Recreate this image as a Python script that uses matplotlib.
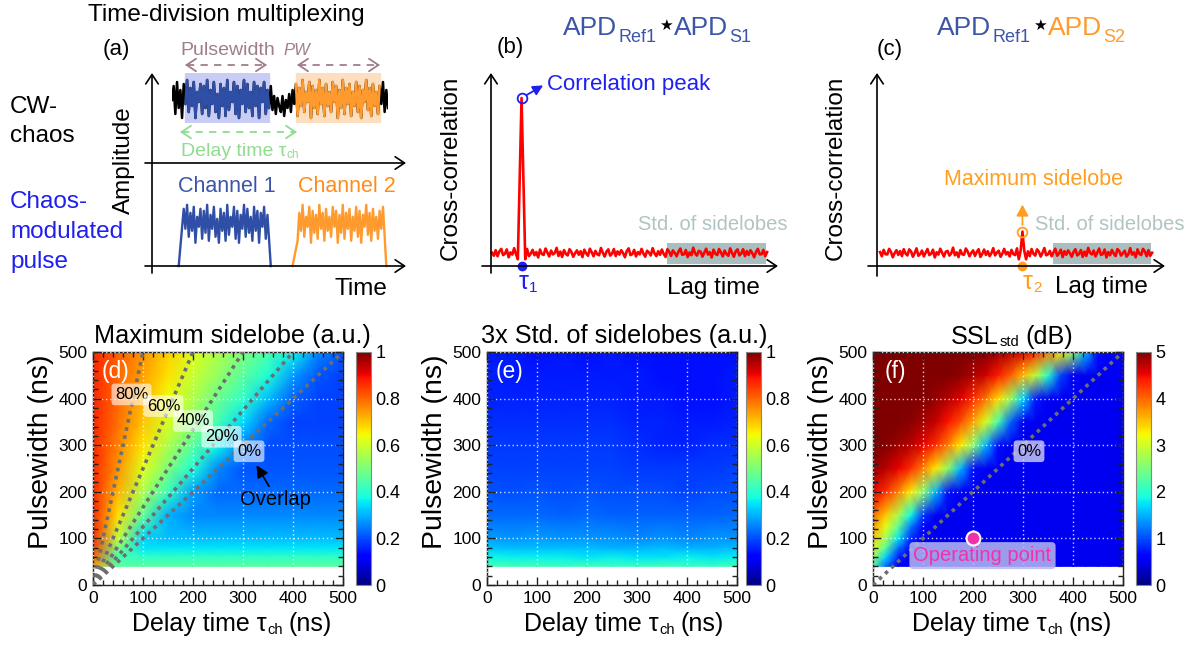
import numpy as np
import matplotlib
matplotlib.use("Agg")
import matplotlib.pyplot as plt
from matplotlib.patches import Rectangle
from matplotlib.ticker import MultipleLocator

plt.rcParams['font.family'] = ['Liberation Sans', 'DejaVu Sans']

# ---------------------------------------------------------------- data
# CW chaos waveform (normalised amplitude, one value per sample)
cw_chaos = [
    0.50, 0.85, 0.15, 0.95, 0.30, 0.75, 0.05, 0.90, 0.40, 1.00,
    0.20, 0.80, 0.35, 0.95, 0.05, 0.70, 0.45, 0.90, 0.15, 0.85,
    0.30, 1.00, 0.10, 0.75, 0.40, 0.95, 0.20, 0.65, 0.05, 0.90,
    0.35, 0.80, 0.10, 1.00, 0.25, 0.70, 0.45, 0.95, 0.15, 0.85,
    0.05, 0.75, 0.40, 1.00, 0.20, 0.90, 0.30, 0.70, 0.10, 0.95,
    0.35, 0.85, 0.05, 0.80, 0.45, 0.95, 0.15, 0.75, 0.30, 0.85,
    0.25, 0.60, 0.15, 0.55, 0.35, 0.20, 0.60, 0.10, 0.50, 0.30,
    0.65, 0.20, 0.75, 0.40, 0.90, 0.10, 0.80, 0.35, 1.00, 0.20,
    0.70, 0.45, 0.95, 0.05, 0.85, 0.30, 0.75, 0.15, 1.00, 0.40,
    0.80, 0.10, 0.90, 0.35, 0.70, 0.20, 0.95, 0.45, 0.85, 0.05,
    0.75, 0.30, 1.00, 0.15, 0.80, 0.40, 0.90, 0.10, 0.70, 0.35,
    0.95, 0.20, 0.85, 0.05, 0.75, 0.45, 1.00, 0.25, 0.80, 0.10,
    0.90, 0.35, 0.70, 0.15, 0.85, 0.40, 0.95, 0.20, 0.75, 0.30,
]
ch1_window = (8, 58)      # sample range of channel 1
ch2_window = (74, 124)    # sample range of channel 2
ch1_edges = (4, 7, 57, 59)     # pulse start, top start, top end, pulse end
ch2_edges = (72, 75, 126, 128)
pulse_offset = 0.53

# cross-correlation sidelobe floor (% of peak)
sidelobe_noise = [
    7.9, 6.1, 9.4, 5.8, 8.7, 10.2, 6.5, 7.3, 9.9, 5.2,
    8.1, 6.8, 10.6, 7.0, 5.6, 9.1, 7.7, 6.2, 8.9, 10.1,
    5.9, 7.4, 9.6, 6.4, 8.3, 5.1, 9.8, 7.1, 6.6, 10.4,
    8.0, 5.7, 9.2, 6.9, 7.8, 10.8, 6.0, 8.6, 5.4, 9.5,
    7.2, 6.3, 10.0, 8.4, 5.5, 7.6, 9.3, 6.7, 8.8, 5.3,
    9.7, 7.5, 6.1, 10.3, 8.2, 5.8, 9.0, 7.0, 6.4, 10.7,
    7.9, 5.6, 8.5, 9.9, 6.2, 7.3, 10.1, 5.9, 8.7, 6.8,
    9.4, 7.7, 5.2, 8.9, 10.5, 6.5, 7.1, 9.6, 5.7, 8.3,
    6.9, 10.2, 7.4, 5.5, 9.1, 8.0, 6.3, 10.6, 7.6, 5.9,
    8.8, 6.6, 9.8, 7.2, 5.4, 10.0, 8.4, 6.0, 9.3, 7.8,
    5.8, 8.6, 10.4, 6.7, 7.0, 9.5, 5.3, 8.1, 6.4, 10.9,
    7.5, 6.2, 9.0, 8.5, 5.6, 7.9, 10.3, 6.8, 8.2, 5.1,
    9.7, 7.3, 6.5, 10.1, 8.0, 5.7, 9.2, 7.1, 6.1, 10.5,
    7.8, 5.5, 8.7, 9.9, 6.3, 7.4, 10.0, 5.9, 8.9, 6.6,
    9.4, 7.6, 5.2, 8.4, 10.2, 6.9, 7.0, 9.6, 5.8, 8.3,
]
peak_b_index, peak_b_shape = 14, [4.0, 52.0, 100.0, 52.0, 4.0]
peak_c_index, peak_c_shape = 76, [4.0, 9.0, 20.5, 9.0, 4.0]
tau1_lag = 16
tau2_lag = 78
std_window = (95, 148.5)

# maps: delay time (ns) x pulsewidth (ns)
tau_d = [0, 50, 100, 150, 200, 250, 300, 350, 400, 450, 500]
pw_d = [40, 60, 80, 100, 150, 200, 250, 300, 350, 400, 450, 500]
max_sidelobe = [
    [.74, .46, .46, .46, .46, .46, .46, .46, .46, .46, .46],
    [.80, .43, .41, .41, .41, .41, .41, .41, .41, .41, .41],
    [.84, .50, .35, .35, .35, .35, .35, .35, .35, .35, .35],
    [.86, .58, .33, .31, .31, .31, .31, .31, .31, .31, .31],
    [.87, .67, .47, .30, .26, .26, .26, .26, .26, .26, .26],
    [.87, .72, .56, .42, .28, .23, .23, .23, .23, .23, .23],
    [.87, .75, .62, .50, .39, .26, .21, .21, .21, .21, .21],
    [.87, .77, .67, .56, .46, .37, .25, .20, .20, .20, .20],
    [.87, .79, .70, .61, .52, .43, .34, .23, .19, .19, .19],
    [.87, .80, .72, .64, .56, .48, .41, .31, .22, .19, .19],
    [.87, .80, .74, .67, .59, .53, .46, .39, .28, .21, .19],
    [.87, .81, .75, .69, .62, .56, .50, .44, .37, .26, .21],
]
std3_sidelobe = [
    [.44, .43, .43, .42, .43, .42, .42, .43, .42, .42, .43],
    [.37, .36, .36, .36, .35, .36, .35, .35, .36, .35, .36],
    [.32, .31, .31, .31, .31, .30, .30, .31, .30, .30, .31],
    [.28, .27, .28, .27, .27, .27, .26, .27, .26, .27, .27],
    [.23, .23, .23, .22, .23, .22, .22, .22, .22, .22, .23],
    [.21, .20, .21, .20, .21, .20, .20, .20, .19, .20, .20],
    [.19, .19, .19, .19, .19, .19, .18, .18, .18, .18, .19],
    [.18, .18, .18, .18, .18, .18, .17, .16, .16, .17, .17],
    [.17, .17, .17, .17, .17, .17, .16, .16, .15, .15, .16],
    [.16, .16, .16, .16, .16, .16, .15, .15, .14, .14, .15],
    [.16, .15, .15, .15, .15, .15, .15, .14, .14, .14, .15],
    [.15, .15, .14, .15, .14, .15, .14, .14, .14, .14, .14],
]
tau_f = [0, 25, 50, 75, 100, 125, 150, 175, 200, 225, 250,
         275, 300, 325, 350, 375, 400, 425, 450, 475, 500]
pw_f = [40, 60, 80, 100, 125, 150, 200, 250, 300, 350, 400, 450, 500]
ssl_std_db = [
    [2.20, 1.15, .50, .50, .50, .50, .50, .50, .50, .50, .50, .50, .50, .50, .50, .50, .50, .50, .50, .50, .50],
    [2.69, 1.67, .80, .50, .50, .50, .50, .50, .50, .50, .50, .50, .50, .50, .50, .50, .50, .50, .50, .50, .50],
    [3.11, 2.28, 1.20, .55, .50, .50, .50, .50, .50, .50, .50, .50, .50, .50, .50, .50, .50, .50, .50, .50, .50],
    [3.44, 2.75, 1.77, .85, .50, .50, .50, .50, .50, .50, .50, .50, .50, .50, .50, .50, .50, .50, .50, .50, .50],
    [3.75, 3.14, 2.32, 1.23, .56, .50, .50, .50, .50, .50, .50, .50, .50, .50, .50, .50, .50, .50, .50, .50, .50],
    [4.00, 3.49, 2.81, 1.86, .90, .50, .50, .50, .50, .50, .50, .50, .50, .50, .50, .50, .50, .50, .50, .50, .50],
    [4.55, 4.30, 3.88, 3.32, 2.60, 1.53, .70, .50, .50, .50, .50, .50, .50, .50, .50, .50, .50, .50, .50, .50, .50],
    [4.88, 4.75, 4.55, 4.30, 3.88, 3.32, 2.60, 1.53, .70, .50, .50, .50, .50, .50, .50, .50, .50, .50, .50, .50, .50],
    [5.00, 5.00, 4.88, 4.75, 4.55, 4.30, 3.88, 3.32, 2.60, 1.53, .70, .50, .50, .50, .50, .50, .50, .50, .50, .50, .50],
    [5.00, 5.00, 5.00, 4.95, 4.83, 4.70, 4.45, 4.13, 3.68, 3.05, 2.20, 1.13, .50, .50, .50, .50, .50, .50, .50, .50, .50],
    [5.00, 5.00, 5.00, 5.00, 5.00, 4.89, 4.77, 4.58, 4.33, 3.93, 3.39, 2.69, 1.67, .75, .50, .50, .50, .50, .50, .50, .50],
    [5.00, 5.00, 5.00, 5.00, 5.00, 5.00, 5.00, 4.93, 4.80, 4.65, 4.40, 4.05, 3.56, 2.90, 2.00, .97, .50, .50, .50, .50, .60],
    [5.00, 5.00, 5.00, 5.00, 5.00, 5.00, 5.00, 5.00, 5.00, 5.00, 4.88, 4.75, 4.55, 4.30, 3.88, 3.32, 2.60, 1.53, .70, .60, .60],
]
overlap_ratios = [0.8, 0.6, 0.4, 0.2, 0.0]
overlap_text = ['80%', '60%', '40%', '20%', '0%']
overlap_label_pos = [(77, 409), (141, 384), (200, 352), (257, 318), (312, 287)]
operating_point = (200, 100)

# ---------------------------------------------------------------- figure
W, H = 1202, 645
fig = plt.figure(figsize=(W / 100, H / 100), dpi=100)
renderer = fig.canvas.get_renderer()

BLUE_SIG = '#2f4fa6'
ORANGE_SIG = '#ff9a2e'
TITLE_BLUE = '#3c55a8'
PURE_BLUE = '#1f1fee'
ORANGE_TXT = '#ff9e1f'
MAUVE = '#a07d8c'
GREEN = '#8fdc8f'
GREY_TXT = '#b0c4c4'
GREY_BOX = '#a9bfbf'


def px_axes(x0, y0, x1, y1):
    return fig.add_axes([x0 / W, 1 - y1 / H, (x1 - x0) / W, (y1 - y0) / H])


def ftext(x, y, s, **kw):
    return fig.text(x / W, 1 - y / H, s, **kw)


def chain_text(x, pieces, ha='left'):
    """Pieces of text set one after another: (string, size, baseline_px, colour, gap_px, extra)."""
    arts, widths = [], []
    for s, fs, base, col, gap, extra in pieces:
        t = fig.text(0, 0, s, fontsize=fs, color=col, ha='left', va='baseline', **extra)
        arts.append((t, base, gap))
        widths.append(t.get_window_extent(renderer).width)
    total = sum(widths) + sum(g for _, _, g in arts)
    xs = x - total / 2 if ha == 'center' else x
    for (t, base, gap), w in zip(arts, widths):
        xs += gap
        t.set_position((xs / W, 1 - base / H))
        xs += w


# ---------------------------------------------------------------- (a)
ax_cw = px_axes(172, 73, 388, 123)
ax_cw.set_xlim(0, len(cw_chaos) - 1)
ax_cw.set_ylim(-0.075, 1.175)
ax_cw.axis('off')
ax_cw.axvspan(*ch1_window, color='#c9cdf6', zorder=0)
ax_cw.axvspan(*ch2_window, color='#fddfc0', zorder=0)
samples = np.arange(len(cw_chaos))
ax_cw.plot(samples, cw_chaos, color='black', lw=1.8, zorder=1)
s1 = slice(ch1_window[0], ch1_window[1] + 1)
s2 = slice(ch2_window[0], ch2_window[1] + 1)
ax_cw.plot(samples[s1], cw_chaos[s1], color=BLUE_SIG, lw=1.8, zorder=2)
ax_cw.plot(samples[s2], cw_chaos[s2], color=ORANGE_SIG, lw=1.8, zorder=2)

ax_p = px_axes(172, 196, 388, 266)
ax_p.set_xlim(0, len(cw_chaos) - 1)
ax_p.set_ylim(0, 1.75)
ax_p.axis('off')
for edges, col in ((ch1_edges, BLUE_SIG), (ch2_edges, ORANGE_SIG)):
    t0, ta, tb, t1 = edges
    xs = [t0] + list(range(ta, tb + 1)) + [t1]
    ys = [0] + [cw_chaos[i] + pulse_offset for i in range(ta, tb + 1)] + [0]
    ax_p.plot(xs, ys, color=col, lw=1.7, clip_on=False)

ftext(226, 15, 'Time-division multiplexing', fontsize=17.5, ha='center', va='center')
ftext(116, 49, '(a)', fontsize=16, ha='center', va='center')
ftext(10, 113, 'CW-', fontsize=17.5, ha='left', va='baseline')
ftext(10, 142, 'chaos', fontsize=17.5, ha='left', va='baseline')
ftext(10, 208, 'Chaos-', fontsize=17.5, ha='left', va='baseline', color=PURE_BLUE)
ftext(10, 238, 'modulated', fontsize=17.5, ha='left', va='baseline', color=PURE_BLUE)
ftext(10, 268, 'pulse', fontsize=17.5, ha='left', va='baseline', color=PURE_BLUE)
ftext(124, 160, 'Amplitude', fontsize=17.5, rotation=90, ha='center', va='center')
ftext(335, 295, 'Time', fontsize=17.5, ha='left', va='baseline')
ftext(180, 55, 'Pulsewidth', fontsize=14, color=MAUVE, ha='left', va='baseline')
ftext(283, 55, 'PW', fontsize=12, color=MAUVE, style='italic', ha='left', va='baseline')
chain_text(181, [('Delay time τ', 14, 156, GREEN, 0, {}),
                 ('ch', 8.5, 158, GREEN, 0.5, {})])
ftext(178, 192, 'Channel 1', fontsize=15.5, color='#3a55a8', ha='left', va='baseline')
ftext(298, 192, 'Channel 2', fontsize=15.5, color='#ff8c1a', ha='left', va='baseline')

# ---------------------------------------------------------------- (b) and (c)
corr_b = list(sidelobe_noise)
corr_b[peak_b_index:peak_b_index + len(peak_b_shape)] = peak_b_shape
corr_c = list(sidelobe_noise[::-1])
corr_c[peak_c_index:peak_c_index + len(peak_c_shape)] = peak_c_shape
lags = np.arange(len(sidelobe_noise))


def corr_panel(box, xlim, corr):
    ax = px_axes(*box)
    ax.set_xlim(*xlim)
    ax.set_ylim(-7.14, 116.67)
    ax.axis('off')
    ax.add_patch(Rectangle((std_window[0], 1.2), std_window[1] - std_window[0], 12.5,
                           facecolor=GREY_BOX, edgecolor='none', zorder=1))
    ax.plot(lags, corr, color='#ff0000', lw=1.9, zorder=2)
    return ax


ax_b = corr_panel((480, 70, 785, 278), (-6.5, 158.7), corr_b)
ax_b.plot([tau1_lag], [corr_b[tau1_lag]], 'o', ms=7, mfc='none', mec=PURE_BLUE, mew=1.3, zorder=3)
ax_b.annotate('', xy=(27.7, 107.5), xytext=(18.8, 101.8),
              arrowprops=dict(arrowstyle='-|>,head_length=0.5,head_width=0.25', color=PURE_BLUE,
                              lw=1.3, shrinkA=0, shrinkB=0, mutation_scale=12))
ax_b.plot([tau1_lag], [0], 'o', ms=6, color=PURE_BLUE, clip_on=False, zorder=4)

ax_c = corr_panel((866, 70, 1170, 278), (-7.67, 158.8), corr_c)
ax_c.plot([tau2_lag], [corr_c[tau2_lag]], 'o', ms=7, mfc='none', mec=ORANGE_TXT, mew=1.3, zorder=3)
ax_c.annotate('', xy=(tau2_lag, 36.5), xytext=(tau2_lag, 24.5),
              arrowprops=dict(arrowstyle='-|>,head_length=0.55,head_width=0.3', color=ORANGE_TXT,
                              lw=1.3, shrinkA=0, shrinkB=0, mutation_scale=12))
ax_c.plot([tau2_lag], [0], 'o', ms=6, color=ORANGE_TXT, clip_on=False, zorder=4)

# panel titles  APD_Ref1 * APD_S
star_font = {'family': ['DejaVu Sans']}
for x0, col2, sub2 in ((563, TITLE_BLUE, 'S1'), (937, ORANGE_SIG, 'S2')):
    chain_text(x0, [('APD', 19, 35, TITLE_BLUE, 0, {}),
                    ('Ref1', 13, 42.5, TITLE_BLUE, 1.5, {}),
                    ('★', 11, 29.5, 'black', 2, star_font),
                    ('APD', 19, 35, col2, 2, {}),
                    (sub2, 13, 42.5, col2, 0.5, {})])

ftext(510, 48, '(b)', fontsize=16, ha='center', va='center')
ftext(890, 50, '(c)', fontsize=16, ha='center', va='center')
for xc in (451, 836):
    ftext(xc, 168, 'Cross-correlation', fontsize=17.5, rotation=90, ha='center', va='center')
ftext(547, 90, 'Correlation peak', fontsize=16, color=PURE_BLUE, va='baseline')
ftext(638, 230, 'Std. of sidelobes', fontsize=14.5, color=GREY_TXT, va='baseline')
ftext(1035, 230, 'Std. of sidelobes', fontsize=14.5, color=GREY_TXT, va='baseline')
ftext(1034, 185, 'Maximum sidelobe', fontsize=15.5, color=ORANGE_TXT, ha='center', va='baseline')
chain_text(528, [('τ', 18, 289, PURE_BLUE, 0, {}), ('1', 11, 292, PURE_BLUE, 0.5, {})], ha='center')
chain_text(1032, [('τ', 18, 289, ORANGE_TXT, 0, {}), ('2', 11, 292, ORANGE_TXT, 0.5, {})], ha='center')
ftext(667, 294, 'Lag time', fontsize=17.5, va='baseline')
ftext(1055, 293, 'Lag time', fontsize=17.5, va='baseline')

# ---------------------------------------------------------------- maps


def style_map(ax):
    ax.set_xlim(0, 500)
    ax.set_ylim(0, 500)
    ax.set_xticks(range(0, 501, 100))
    ax.set_yticks(range(0, 501, 100))
    ax.xaxis.set_minor_locator(MultipleLocator(20))
    ax.yaxis.set_minor_locator(MultipleLocator(20))
    ax.tick_params(which='both', direction='in', top=True, right=True, color='#222222', width=1)
    ax.tick_params(which='major', length=6, labelsize=12.5, pad=4)
    ax.tick_params(which='minor', length=3.5)
    ax.grid(which='major', color='white', ls=(0, (1, 2)), lw=1, alpha=0.8)
    ax.set_axisbelow(False)
    for sp in ax.spines.values():
        sp.set_color('#222222')
        sp.set_linewidth(1)


def map_panel(x0, cx0, tau, pw, values, vmax, cticks, clabels, title, tag):
    ax = px_axes(x0, 352, x0 + 250, 585)
    T, P = np.meshgrid(tau, pw)
    mesh = ax.pcolormesh(T, P, np.array(values), cmap='jet', vmin=0, vmax=vmax,
                         shading='gouraud', zorder=0)
    style_map(ax)
    cax = px_axes(cx0, 352, cx0 + 15, 585)
    cb = fig.colorbar(mesh, cax=cax, ticks=cticks)
    cb.set_ticklabels(clabels)
    cb.ax.tick_params(length=0, labelsize=13, pad=3)
    cb.outline.set_edgecolor('#888888')
    xc = (x0 + cx0 + 15) / 2
    if isinstance(title, str):
        ftext(xc, 336, title, fontsize=18.2, ha='center', va='center')
    else:
        chain_text(xc, title, ha='center')
    chain_text(xc, [('Delay time τ', 18, 631, 'black', 0, {}),
                    ('ch', 10.5, 634, 'black', 0.5, {}),
                    ('(ns)', 18, 631, 'black', 6, {})], ha='center')
    ftext(x0 - 52, 452, 'Pulsewidth (ns)', fontsize=20.5, rotation=90, ha='center', va='center')
    ax.text(0.089, 0.918, tag, transform=ax.transAxes, color='white', fontsize=16.5,
            ha='center', va='center')
    return ax


frac_ticks = [0, 0.2, 0.4, 0.6, 0.8, 1.0]
frac_labels = ['0', '0.2', '0.4', '0.6', '0.8', '1']
ax_d = map_panel(93, 356, tau_d, pw_d, max_sidelobe, 1.0, frac_ticks, frac_labels,
                 'Maximum sidelobe (a.u.)', '(d)')
ax_e = map_panel(487, 746, tau_d, pw_d, std3_sidelobe, 1.0, frac_ticks, frac_labels,
                 '3x Std. of sidelobes (a.u.)', '(e)')
ssl_title = [('SSL', 18.2, 344, 'black', 0, {}),
             ('std', 10.5, 346, 'black', 0.5, {}),
             ('(dB)', 18.2, 344, 'black', 6, {})]
ax_f = map_panel(873, 1136, tau_f, pw_f, ssl_std_db, 5.0, [0, 1, 2, 3, 4, 5],
                 ['0', '1', '2', '3', '4', '5'], ssl_title, '(f)')

dot_style = dict(color='#6e6e6e', ls=(0, (1, 1.3)), lw=2.6, zorder=3)
for r, txt, (lx, ly) in zip(overlap_ratios, overlap_text, overlap_label_pos):
    ax_d.plot([0, 500 * (1 - r)], [0, 500], clip_on=True, **dot_style)
    ax_d.text(lx, ly, txt, fontsize=12, ha='center', va='center', zorder=5,
              bbox=dict(boxstyle='round,pad=0.2', facecolor='white', alpha=0.6, edgecolor='none'))
ax_d.annotate('', xy=(327, 257), xytext=(352, 212),
              arrowprops=dict(arrowstyle='-|>,head_length=0.6,head_width=0.3', color='black',
                              lw=1.2, shrinkA=0, shrinkB=0, mutation_scale=12), zorder=5)
ax_d.text(364, 183, 'Overlap', fontsize=14.5, ha='center', va='center', zorder=5)

ax_f.plot([0, 500], [0, 500], **dot_style)
ax_f.text(312, 287, '0%', fontsize=12, ha='center', va='center', zorder=5,
          bbox=dict(boxstyle='round,pad=0.2', facecolor='#d0d0f4', alpha=0.8, edgecolor='none'))
ax_f.plot([operating_point[0]], [operating_point[1]], 'o', ms=10, color='#f032aa',
          mec='white', mew=1.5, zorder=6)
ax_f.text(219, 63, 'Operating point', fontsize=14.5, color='#f032aa', ha='center', va='center',
          zorder=5, bbox=dict(boxstyle='round,pad=0.2', facecolor='#b8b8ee', alpha=0.85,
                              edgecolor='none'))

# ---------------------------------------------------------------- arrows of the sketches
ax_ov = fig.add_axes([0, 0, 1, 1])
ax_ov.set_xlim(0, W)
ax_ov.set_ylim(H, 0)
ax_ov.axis('off')
ax_ov.patch.set_alpha(0)


def arrow(x0, y0, x1, y1, color='black', lw=1.2, style='->,head_length=0.45,head_width=0.3'):
    ax_ov.annotate('', xy=(x1, y1), xytext=(x0, y0),
                   arrowprops=dict(arrowstyle=style, color=color, lw=lw, shrinkA=0, shrinkB=0,
                                   mutation_scale=15))


def dashed_span(x0, x1, y, color):
    ax_ov.plot([x0 + 2, x1 - 2], [y, y], color=color, lw=1.3, ls=(0, (4, 3.5)))
    arrow(x0 + 3, y, x0, y, color=color, lw=1.3)
    arrow(x1 - 3, y, x1, y, color=color, lw=1.3)


# (a) axes
arrow(152, 273, 152, 73)
arrow(145, 163, 406, 163)
arrow(145, 266, 406, 266)
dashed_span(185, 267, 65, MAUVE)
dashed_span(297, 380, 65, MAUVE)
dashed_span(180, 297, 132, GREEN)
# (b) axes
arrow(491, 273, 491, 73)
arrow(482, 266, 778, 266)
# (c) axes
arrow(877, 276, 877, 73)
arrow(868, 266, 1165, 266)

fig.savefig('out.png', dpi=100)
